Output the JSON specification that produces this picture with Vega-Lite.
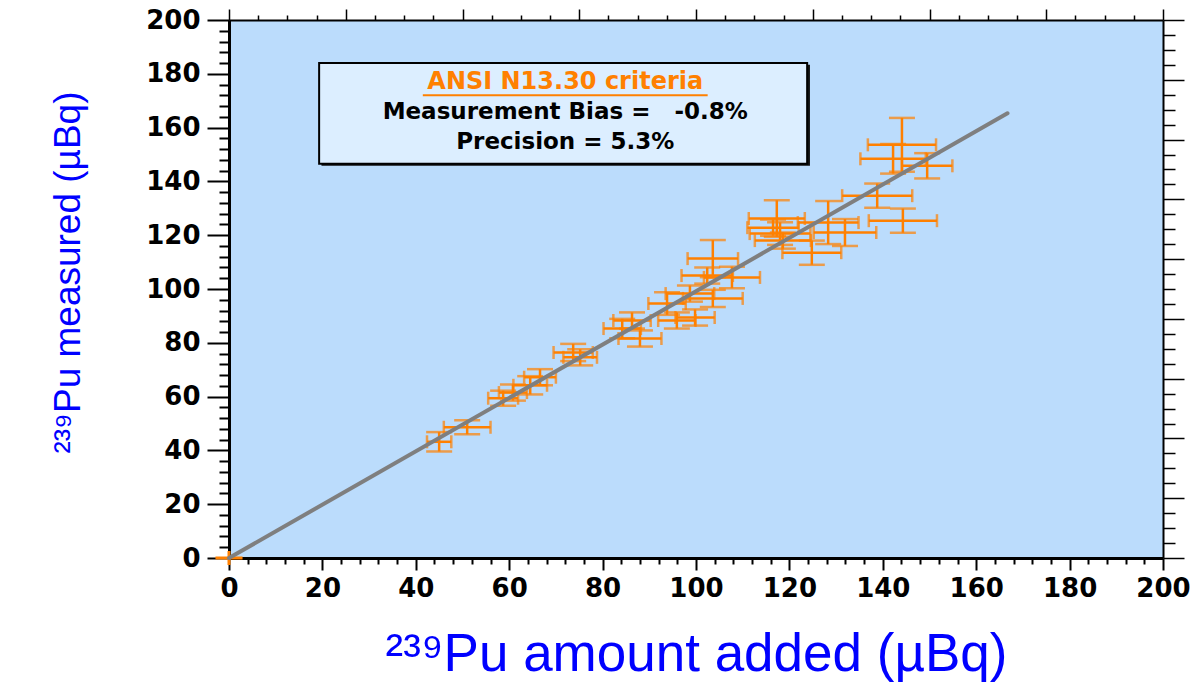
{
  "$schema": "https://vega.github.io/schema/vega-lite/v6.json",
  "width": 934,
  "height": 538,
  "autosize": "none",
  "padding": {"left": 229, "top": 20, "right": 33, "bottom": 126},
  "background": "white",
  "config": {
    "view": {"fill": "#bbdcfc", "stroke": null},
    "axis": {"grid": false, "tickColor": "#000", "domainColor": "#000", "labelColor": "#000"}
  },
  "datasets": {
    "pts": [
      {"x": 45.0, "y": 43.2, "ex": 2.6, "ey": 3.6},
      {"x": 51.0, "y": 48.6, "ex": 5.0, "ey": 2.6},
      {"x": 58.7, "y": 59.4, "ex": 3.2, "ey": 2.8},
      {"x": 60.8, "y": 61.5, "ex": 3.0, "ey": 3.0},
      {"x": 64.5, "y": 64.2, "ex": 3.6, "ey": 3.4},
      {"x": 66.6, "y": 67.2, "ex": 3.4, "ey": 3.0},
      {"x": 73.7, "y": 76.4, "ex": 4.2, "ey": 3.2},
      {"x": 75.2, "y": 74.6, "ex": 3.6, "ey": 3.0},
      {"x": 84.2, "y": 85.3, "ex": 4.0, "ey": 3.6},
      {"x": 86.3, "y": 88.3, "ex": 4.0, "ey": 3.0},
      {"x": 88.0, "y": 81.6, "ex": 4.6, "ey": 3.0},
      {"x": 93.8, "y": 94.6, "ex": 4.0, "ey": 4.2},
      {"x": 95.9, "y": 88.3, "ex": 4.0, "ey": 3.0},
      {"x": 99.8, "y": 89.4, "ex": 4.2, "ey": 3.0},
      {"x": 98.7, "y": 98.3, "ex": 5.2, "ey": 3.0},
      {"x": 103.6, "y": 96.5, "ex": 6.4, "ey": 3.2},
      {"x": 103.6, "y": 111.3, "ex": 5.4, "ey": 6.9},
      {"x": 102.4, "y": 105.0, "ex": 5.5, "ey": 3.0},
      {"x": 107.7, "y": 104.3, "ex": 6.0, "ey": 4.0},
      {"x": 117.3, "y": 126.2, "ex": 6.0, "ey": 6.8},
      {"x": 118.0, "y": 120.6, "ex": 6.5, "ey": 4.2},
      {"x": 116.5, "y": 122.8, "ex": 5.5, "ey": 3.0},
      {"x": 118.6, "y": 118.0, "ex": 6.0, "ey": 3.0},
      {"x": 124.8, "y": 113.5, "ex": 6.3, "ey": 4.5},
      {"x": 128.3, "y": 124.7, "ex": 6.5, "ey": 8.0},
      {"x": 131.9, "y": 121.0, "ex": 6.7, "ey": 5.0},
      {"x": 138.8, "y": 134.7, "ex": 7.5, "ey": 4.5},
      {"x": 144.3, "y": 125.4, "ex": 7.3, "ey": 4.5},
      {"x": 144.1, "y": 153.6, "ex": 7.3, "ey": 10.0},
      {"x": 142.2, "y": 148.4, "ex": 7.0, "ey": 5.5},
      {"x": 149.5, "y": 145.8, "ex": 5.4, "ey": 4.7}
    ],
    "origin": [
      {"x": 0, "y": 0, "ex": 2.9, "ey": 2.6}
    ],
    "fit": [
      {"x": 0, "y": 0},
      {"x": 166.7, "y": 165.3}
    ],
    "one": [{}]
  },
  "resolve": {"axis": {"x": "independent", "y": "independent"}},
  "layer": [
    {
      "data": {"name": "one"},
      "mark": {"type": "rect", "fill": "#111111"},
      "encoding": {
        "x": {"datum": 19.8, "type": "quantitative", "scale": {"domain": [0, 200], "nice": false},
          "axis": {"orient": "top", "values": [6.25, 12.5, 18.75, 31.25, 37.5, 43.75, 56.25, 62.5, 68.75, 81.25, 87.5, 93.75, 106.25, 112.5, 118.75, 131.25, 137.5, 143.75, 156.25, 162.5, 168.75, 181.25, 187.5, 193.75],
            "tickSize": 5, "tickWidth": 1.5, "labels": false, "domain": false, "title": null}},
        "x2": {"datum": 124.4},
        "y": {"datum": 183.4, "type": "quantitative", "scale": {"domain": [0, 200], "nice": false},
          "axis": {"orient": "right", "values": [5.556, 11.111, 16.667, 27.778, 33.333, 38.889, 50, 55.556, 61.111, 72.222, 77.778, 83.333, 94.444, 100, 105.556, 116.667, 122.222, 127.778, 138.889, 144.444, 150, 161.111, 166.667, 172.222, 183.333, 188.889, 194.444],
            "tickSize": 12, "tickWidth": 1.5, "labels": false, "domain": false, "title": null}},
        "y2": {"datum": 145.8}
      }
    },
    {
      "data": {"name": "one"},
      "mark": {"type": "rect", "fill": "#dceeff", "stroke": "#000", "strokeWidth": 2},
      "encoding": {
        "x": {"datum": 19.3, "type": "quantitative", "scale": {"domain": [0, 200], "nice": false}, "axis": null},
        "x2": {"datum": 123.8},
        "y": {"datum": 184.0, "type": "quantitative", "scale": {"domain": [0, 200], "nice": false}, "axis": null},
        "y2": {"datum": 146.6}
      }
    },
    {
      "data": {"name": "one"},
      "mark": {"type": "text", "font": "DejaVu Sans", "fontWeight": "bold", "fontSize": 24, "color": "#ff8000", "align": "center", "baseline": "middle"},
      "encoding": {
        "x": {"datum": 72, "type": "quantitative", "scale": {"domain": [0, 200], "nice": false}, "axis": null},
        "y": {"datum": 176.8, "type": "quantitative", "scale": {"domain": [0, 200], "nice": false}, "axis": null},
        "text": {"value": "ANSI N13.30 criteria"}
      }
    },
    {
      "data": {"name": "one"},
      "mark": {"type": "rule", "color": "#ff8000", "strokeWidth": 2},
      "encoding": {
        "x": {"datum": 41.5, "type": "quantitative", "scale": {"domain": [0, 200], "nice": false}, "axis": null},
        "x2": {"datum": 102.5},
        "y": {"datum": 172.0, "type": "quantitative", "scale": {"domain": [0, 200], "nice": false}, "axis": null}
      }
    },
    {
      "data": {"name": "one"},
      "mark": {"type": "text", "font": "DejaVu Sans", "fontWeight": "bold", "fontSize": 23, "color": "#000", "align": "center", "baseline": "middle"},
      "encoding": {
        "x": {"datum": 72, "type": "quantitative", "scale": {"domain": [0, 200], "nice": false}, "axis": null},
        "y": {"datum": 165.7, "type": "quantitative", "scale": {"domain": [0, 200], "nice": false}, "axis": null},
        "text": {"value": "Measurement Bias = \u00a0 -0.8%"}
      }
    },
    {
      "data": {"name": "one"},
      "mark": {"type": "text", "font": "DejaVu Sans", "fontWeight": "bold", "fontSize": 23, "color": "#000", "align": "center", "baseline": "middle"},
      "encoding": {
        "x": {"datum": 72, "type": "quantitative", "scale": {"domain": [0, 200], "nice": false}, "axis": null},
        "y": {"datum": 154.6, "type": "quantitative", "scale": {"domain": [0, 200], "nice": false}, "axis": null},
        "text": {"value": "Precision = 5.3%"}
      }
    },
    {
      "data": {"name": "pts"},
      "mark": {"type": "errorbar", "thickness": 2.5, "color": "#ff8000", "ticks": {"size": 13, "color": "#ff8000"}},
      "encoding": {
        "x": {"field": "x", "type": "quantitative", "scale": {"domain": [0, 200], "nice": false},
          "axis": {"orient": "bottom", "values": [0, 20, 40, 60, 80, 100, 120, 140, 160, 180, 200],
            "tickSize": 12, "tickWidth": 2, "domainWidth": 3,
            "labelFont": "DejaVu Sans", "labelFontWeight": "bold", "labelFontSize": 26, "labelPadding": 5,
            "labelFlush": false, "labelOverlap": false,
            "title": "²³⁹Pu amount added (µBq)", "titleFont": "Liberation Sans", "titleFontSize": 53,
            "titleFontWeight": "normal", "titleColor": "#0000ff", "titleY": 112, "titleBaseline": "alphabetic"}},
        "xError": {"field": "ex"},
        "y": {"field": "y", "type": "quantitative", "scale": {"domain": [0, 200], "nice": false},
          "axis": {"orient": "left", "values": [0, 20, 40, 60, 80, 100, 120, 140, 160, 180, 200],
            "tickSize": 22, "tickWidth": 2, "domainWidth": 3,
            "labelFont": "DejaVu Sans", "labelFontWeight": "bold", "labelFontSize": 26, "labelPadding": 7,
            "labelFlush": false, "labelOverlap": false,
            "title": "²³⁹Pu measured (µBq)", "titleFont": "Liberation Sans", "titleFontSize": 37,
            "titleFontWeight": "normal", "titleColor": "#0000ff", "titleX": -150, "titleY": 252,
            "titleBaseline": "alphabetic", "titleAngle": -90}}
      }
    },
    {
      "data": {"name": "pts"},
      "mark": {"type": "errorbar", "thickness": 2.5, "color": "#ff8000", "ticks": {"size": 26, "color": "#ff8000"}},
      "encoding": {
        "x": {"field": "x", "type": "quantitative", "scale": {"domain": [0, 200], "nice": false},
          "axis": {"orient": "top", "values": [0, 25, 50, 75, 100, 125, 150, 175, 200],
            "tickSize": 11, "tickWidth": 1.5, "domainWidth": 2, "labels": false, "title": null}},
        "y": {"field": "y", "type": "quantitative", "scale": {"domain": [0, 200], "nice": false},
          "axis": {"orient": "right", "values": [0, 22.222, 44.444, 66.667, 88.889, 111.111, 133.333, 155.556, 177.778, 200],
            "tickSize": 21, "tickWidth": 1.5, "domainWidth": 2, "labels": false, "title": null}},
        "yError": {"field": "ey"}
      }
    },
    {
      "data": {"name": "origin"},
      "mark": {"type": "errorbar", "thickness": 3, "color": "#ff8000", "ticks": false},
      "encoding": {
        "x": {"field": "x", "type": "quantitative", "scale": {"domain": [0, 200], "nice": false}, "axis": null},
        "xError": {"field": "ex"},
        "y": {"field": "y", "type": "quantitative", "scale": {"domain": [0, 200], "nice": false}, "axis": null}
      }
    },
    {
      "data": {"name": "origin"},
      "mark": {"type": "errorbar", "thickness": 3, "color": "#ff8000", "ticks": false},
      "encoding": {
        "x": {"field": "x", "type": "quantitative", "scale": {"domain": [0, 200], "nice": false}, "axis": null},
        "y": {"field": "y", "type": "quantitative", "scale": {"domain": [0, 200], "nice": false}, "axis": null},
        "yError": {"field": "ey"}
      }
    },
    {
      "data": {"name": "fit"},
      "mark": {"type": "line", "color": "#7f7f7f", "strokeWidth": 4, "strokeCap": "round"},
      "encoding": {
        "x": {"field": "x", "type": "quantitative", "scale": {"domain": [0, 200], "nice": false},
          "axis": {"orient": "bottom", "values": [4, 8, 12, 16, 24, 28, 32, 36, 44, 48, 52, 56, 64, 68, 72, 76, 84, 88, 92, 96, 104, 108, 112, 116, 124, 128, 132, 136, 144, 148, 152, 156, 164, 168, 172, 176, 184, 188, 192, 196],
            "tickSize": 6, "tickWidth": 2, "labels": false, "domain": false, "title": null}},
        "y": {"field": "y", "type": "quantitative", "scale": {"domain": [0, 200], "nice": false},
          "axis": {"orient": "left", "values": [4, 8, 12, 16, 24, 28, 32, 36, 44, 48, 52, 56, 64, 68, 72, 76, 84, 88, 92, 96, 104, 108, 112, 116, 124, 128, 132, 136, 144, 148, 152, 156, 164, 168, 172, 176, 184, 188, 192, 196],
            "tickSize": 10, "tickWidth": 2, "labels": false, "domain": false, "title": null}}
      }
    }
  ]
}
